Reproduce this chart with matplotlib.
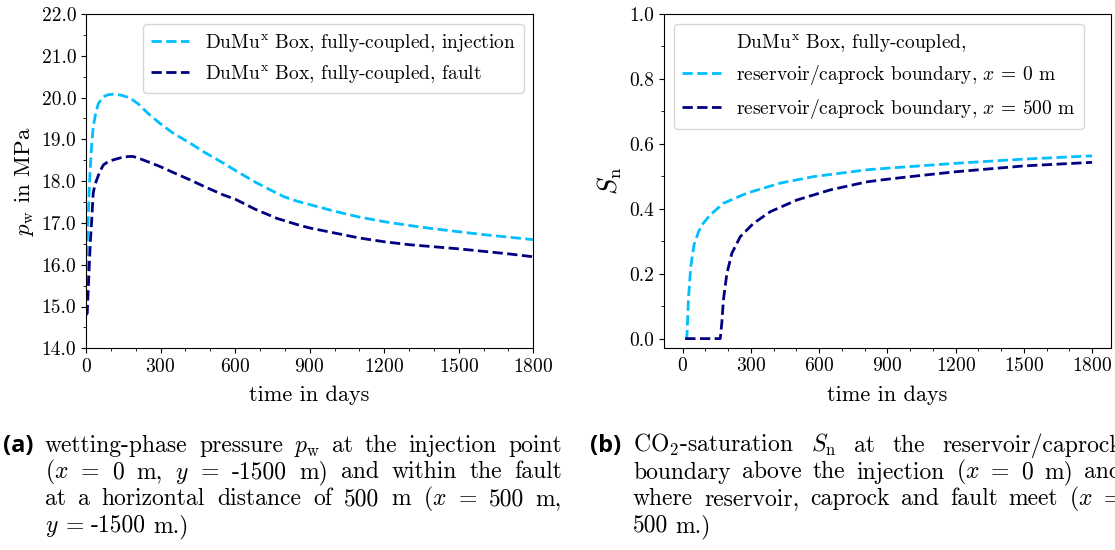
import matplotlib
matplotlib.use("Agg")
import matplotlib.pyplot as plt
from matplotlib.ticker import MultipleLocator, FormatStrFormatter

plt.rcParams["font.family"] = "cmr10"
plt.rcParams["mathtext.fontset"] = "cm"
plt.rcParams["axes.formatter.use_mathtext"] = True

# ---- pressure at the injection point and inside the fault (days, MPa) ----
t_inj = [0, 3, 6, 9, 13, 16, 22, 29, 40, 50, 70, 90, 110, 140, 177, 210, 250,
         298, 350, 419, 480, 553, 600, 680, 768, 800, 850, 900, 1000, 1100,
         1200, 1300, 1400, 1500, 1600, 1700, 1800]
p_inj = [14.8, 16.0, 16.7, 17.15, 17.8, 18.2, 18.8, 19.3, 19.65, 19.86, 20.02,
         20.07, 20.08, 20.06, 19.99, 19.85, 19.62, 19.38, 19.15, 18.91, 18.68,
         18.43, 18.26, 17.98, 17.71, 17.62, 17.52, 17.44, 17.28, 17.14, 17.03,
         16.94, 16.86, 16.79, 16.72, 16.66, 16.60]

t_fault = [0, 5, 9, 13, 18, 23, 29, 36, 43, 55, 70, 90, 110, 140, 170, 190,
           220, 260, 298, 350, 419, 480, 553, 600, 680, 768, 850, 900, 1000,
           1100, 1200, 1300, 1400, 1500, 1600, 1700, 1800]
p_fault = [14.8, 14.84, 15.4, 15.95, 16.6, 17.07, 17.71, 17.92, 18.03, 18.22,
           18.39, 18.47, 18.51, 18.56, 18.59, 18.59, 18.53, 18.44, 18.35, 18.21,
           18.03, 17.86, 17.67, 17.57, 17.33, 17.11, 16.96, 16.88, 16.76, 16.64,
           16.55, 16.48, 16.43, 16.38, 16.32, 16.26, 16.19]

# ---- CO2 saturation at the reservoir/caprock boundary ----
t_s0 = [11, 18, 25, 35, 50, 70, 90, 121, 179, 282, 429, 575, 810, 900, 1000,
        1200, 1500, 1800]
s_0 = [0.0, 0.0, 0.12, 0.22, 0.29, 0.33, 0.355, 0.381, 0.417, 0.448, 0.479,
       0.499, 0.520, 0.525, 0.530, 0.540, 0.553, 0.563]

t_s500 = [11, 165, 172, 179, 194, 216, 253, 311, 385, 502, 648, 810, 900, 1000,
          1200, 1500, 1800]
s_500 = [0.0, 0.0, 0.05, 0.12, 0.20, 0.263, 0.314, 0.355, 0.391, 0.427, 0.458,
         0.483, 0.491, 0.499, 0.514, 0.532, 0.543]

light = "deepskyblue"
dark = "navy"
dumux = r"DuMu$^{\mathrm{x}}$ Box, fully-coupled"

W, H = 1115, 550
fig = plt.figure(figsize=(W / 100, H / 100), dpi=100)


def axes_px(x0, y0, x1, y1):
    return fig.add_axes([x0 / W, 1 - y1 / H, (x1 - x0) / W, (y1 - y0) / H])


ax1 = axes_px(86, 14, 533.3, 348.3)
ax2 = axes_px(664.3, 14, 1111, 347.7)

# left panel: pressure
ax1.plot(t_inj, p_inj, ls="--", lw=2, color=light, label=dumux + ", injection")
ax1.plot(t_fault, p_fault, ls="--", lw=2, color=dark, label=dumux + ", fault")
ax1.set_xlim(0, 1800)
ax1.set_ylim(14, 22)
ax1.xaxis.set_major_locator(MultipleLocator(300))
ax1.xaxis.set_minor_locator(MultipleLocator(100))
ax1.yaxis.set_major_locator(MultipleLocator(1))
ax1.yaxis.set_minor_locator(MultipleLocator(0.5))
ax1.yaxis.set_major_formatter(FormatStrFormatter("%.1f"))
ax1.set_xlabel("time in days", fontsize=16, labelpad=7)
ax1.set_ylabel(r"$p_\mathrm{w}$ in MPa", fontsize=16.5)
ax1.legend(loc="upper right", fontsize=14)

# right panel: saturation
ax2.plot([], [], ls="none", label=dumux + ",")
ax2.plot(t_s0, s_0, ls="--", lw=2, color=light,
         label=r"reservoir/caprock boundary, $x$ = 0 m")
ax2.plot(t_s500, s_500, ls="--", lw=2, color=dark,
         label=r"reservoir/caprock boundary, $x$ = 500 m")
ax2.set_xlim(-81, 1883)
ax2.set_ylim(-0.028, 1.0)
ax2.xaxis.set_major_locator(MultipleLocator(300))
ax2.xaxis.set_minor_locator(MultipleLocator(100))
ax2.yaxis.set_major_locator(MultipleLocator(0.2))
ax2.yaxis.set_minor_locator(MultipleLocator(0.1))
ax2.yaxis.set_major_formatter(FormatStrFormatter("%.1f"))
ax2.set_xlabel("time in days", fontsize=16, labelpad=7)
ax2.set_ylabel(r"$S_\mathrm{n}$", fontsize=19)
ax2.legend(loc="upper left", fontsize=14)

for ax in (ax1, ax2):
    ax.tick_params(labelsize=14)

# ---- sub-captions, set as justified paragraphs ----
renderer = fig.canvas.get_renderer()
CAP = 17


def place_line(tokens, x0, y, x1=None, gap=7.0):
    texts = [fig.text(0, 1 - y / H, tok, fontsize=CAP, va="baseline", ha="left")
             for tok in tokens]
    widths = [t.get_window_extent(renderer).width for t in texts]
    if x1 is not None and len(tokens) > 1:
        gap = (x1 - x0 - sum(widths)) / (len(tokens) - 1)
    x = x0
    for t, w in zip(texts, widths):
        t.set_x(x / W)
        x += w + gap


baselines = [452, 478.5, 505, 532]

cap_a = [
    ["wetting-phase", "pressure", r"$p_\mathrm{w}$", "at", "the", "injection", "point"],
    [r"($x$", "=", "0", "m,", r"$y$", "=", "-1500", "m)", "and", "within", "the", "fault"],
    ["at", "a", "horizontal", "distance", "of", "500", "m", r"($x$", "=", "500", "m,"],
    [r"$y$", "=", "-1500", "m.)"],
]
cap_b = [
    [r"CO$_2$-saturation", r"$S_\mathrm{n}$", "at", "the", "reservoir/caprock"],
    ["boundary", "above", "the", "injection", r"($x$", "=", "0", "m)", "and"],
    ["where", "reservoir,", "caprock", "and", "fault", "meet", r"($x$", "="],
    ["500", "m.)"],
]

for (tag, tag_x, x0, x1, lines) in [("(a)", 3, 45, 562, cap_a),
                                      ("(b)", 590, 633, 1122, cap_b)]:
    fig.text(tag_x / W, 1 - baselines[0] / H, tag, fontsize=17,
             family="Open Sans", weight="bold", va="baseline", ha="left")
    for i, (tokens, yb) in enumerate(zip(lines, baselines)):
        last = i == len(lines) - 1
        place_line(tokens, x0, yb, None if last else x1)

fig.savefig("out.png", dpi=100)
